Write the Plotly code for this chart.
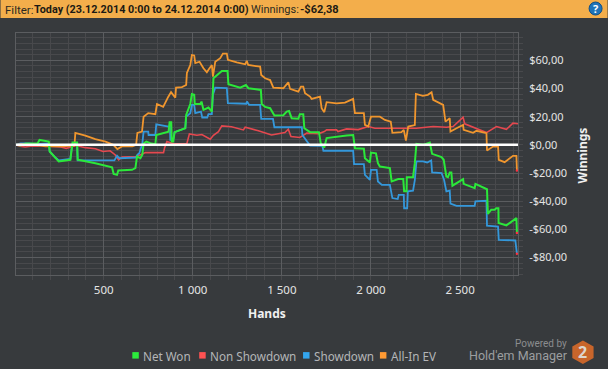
import plotly.graph_objects as go

W, H = 608, 369
FONT = "Noto Sans"
NARROW = "Roboto"
BG = "#373A3D"

hands_net = [8,33,61,89,129,140,192,197,229,248,313,323,325,351,354,453,519,547,556,575,582,659,678,687,706,717,724,739,762,790,795,864,870,879,882,890,898,958,963,986,995,1008,1011,1042,1049,1060,1088,1107,1116,1126,1163,1195,1200,1266,1298,1312,1382,1387,1406,1434,1458,1508,1527,1540,1555,1592,1601,1620,1626,1658,1708,1718,1738,1751,1807,1863,1900,1910,1960,1966,1994,2000,2028,2039,2050,2106,2116,2153,2181,2186,2200,2201,2236,2246,2255,2292,2330,2343,2396,2408,2423,2432,2442,2451,2457,2498,2517,2520,2582,2586,2638,2651,2656,2675,2694,2703,2715,2716,2760,2806,2816,2819]
net_won = [0,-0.5,1,1,1,3.5,2.3,-4.7,-9.5,-11.8,-10.6,0,1.6,1.6,-10.6,-13,-15.4,-16,-20.6,-21.3,-18.2,-17.7,-16.5,-8.3,-9.5,-7,1,2.3,1.2,0.5,7,9.4,16,16,2.3,2.3,9,11.8,21.3,29,36,35.5,29,29,30.7,24.8,26.5,23.6,47.3,48.4,52.5,52.5,43,40.6,42.5,40.2,39,29,26.9,26,20.8,21,23.6,24,18.9,18.5,21.8,21.8,11.8,9,9,1.2,-1.9,4.8,5.9,6.6,7,-2.4,-2.8,-9.5,-12.5,-5.5,-6,-13,-15.4,-16.5,-26,-24.3,-24.3,-33,-33,-23,-23,-13,0.7,0,1.6,-6.4,-8.7,-10.6,-22.5,-23,-19.6,-19.6,-29,-26,-24.3,-27.7,-30.7,-27.7,-30.7,-31.5,-49,-46,-46,-45,-45,-55.5,-57.2,-52.5,-52,-62.6]

hands_non = [8,30,60,90,130,160,200,260,290,320,345,397,453,497,536,564,584,603,659,687,734,790,836,842,855,893,967,981,1023,1051,1098,1116,1144,1163,1217,1284,1294,1368,1442,1517,1536,1551,1601,1640,1708,1738,1751,1807,1815,1863,1928,1985,2022,2050,2106,2255,2349,2423,2461,2517,2526,2592,2648,2704,2760,2797,2825]
non_showdown = [0,-1,-1.5,-1,-1,-0.5,-1,-1.5,-2.5,-1.5,-0.5,-2,-2.8,-4.7,-4.2,-7,-10.6,-8.7,-8.5,-8.3,-5.5,-5.5,-5.5,-2,2.3,0.7,1,7.8,6.8,7.3,4,6.8,9.4,13.5,12.8,10.6,12.5,10,7,8.7,11.1,5.9,5.2,8.3,8,9.4,10.6,10.6,9.4,11.3,10.8,13,11.8,11.8,11.8,11.8,13,12.5,13,19.6,14.9,11.8,8.7,13,11,15.4,15]

hands_show = [8,33,80,120,192,197,229,248,313,323,351,354,560,575,588,680,690,700,717,724,750,752,790,795,864,872,874,890,898,958,963,986,995,1008,1014,1046,1053,1081,1088,1107,1113,1126,1191,1197,1300,1304,1316,1378,1384,1450,1458,1612,1615,1658,1727,1733,1900,1905,1960,1966,1994,2000,2032,2039,2061,2106,2120,2150,2156,2184,2186,2203,2207,2236,2246,2255,2292,2315,2338,2343,2396,2410,2423,2442,2446,2480,2582,2586,2648,2651,2713,2717,2810,2819]
showdown = [0,1,1,0.5,1,-4.7,-9,-11,-10,0,1,-11,-11,-7.8,-9.5,-9,-7,-6,1,9.4,9.4,7,7,14.5,13,13,3.5,3.5,9,11.8,20,22.5,28.4,28.4,22.5,23.6,19.4,19.4,21.8,21.8,35.5,40.6,40.3,29.6,29.2,30.7,28.4,28.4,18.4,18.4,12.5,12.5,7,-0.5,-0.8,-4.2,-4.2,-13.7,-13.7,-21.3,-24.8,-17.7,-17.7,-26,-28.4,-28.4,-37.8,-38.5,-35.5,-35.5,-45,-45,-33,-32.5,-25,-11.8,-11.8,-12.5,-11,-19.6,-20,-24.8,-33,-32.5,-41.8,-43.3,-43.3,-40.2,-39.7,-57.4,-58,-67.4,-67.9,-77.3]

hands_ev = [8,30,89,173,257,336,341,397,453,510,554,577,605,661,682,689,715,722,724,750,790,799,834,862,878,902,906,939,963,967,986,995,1008,1014,1038,1060,1079,1092,1107,1113,1126,1154,1169,1191,1197,1247,1294,1303,1311,1378,1384,1406,1434,1452,1508,1536,1546,1592,1607,1620,1630,1658,1667,1714,1723,1738,1751,1807,1854,1900,1910,1960,1966,1985,2000,2050,2078,2111,2120,2171,2184,2196,2209,2246,2252,2291,2319,2340,2349,2405,2418,2442,2446,2480,2517,2520,2573,2592,2648,2651,2685,2713,2717,2750,2797,2816,2819]
all_in_ev = [0,0.3,0.5,-1,-1,-0.5,8.5,6.6,4,2.3,0,-3,-1,-1,0,8.5,9.4,18,20,22.5,21.8,29,27,34,37.4,33.5,40.6,41,42.5,51,56.7,63.8,63.5,58,59,54.4,51.5,54,56.7,48.4,59,61.5,64.8,64.8,60.3,58.6,57.2,59.6,56.7,55.5,49.6,47.3,46,40.6,40.2,44.4,39.7,37.8,41.3,41.3,36.7,34.3,32.6,34.3,26,23.2,30.3,29.5,30,32.6,22.5,22.5,14.2,13,20,20,17.7,16.5,8.5,9,10.6,3,13,14,36.2,34.8,35.5,37.4,32,28.4,16.5,18.9,9.4,11.8,14.2,10.6,8.5,10,8.3,-4,-1.2,-1.2,-10.6,-12.3,-7.8,-7.8,-18.2]

y_ticks = [60,40,20,0,-20,-40,-60,-80]
y_labels = ["$60,00","$40,00","$20,00","$0,00","-$20,00","-$40,00","-$60,00","-$80,00"]
x_ticks = [500,1000,1500,2000,2500]
x_labels = ["500","1 000","1 500","2 000","2 500"]
series_names = ["Net Won","Non Showdown","Showdown","All-In EV"]
LINE_COL = {"Net Won":"#2BE83A","Non Showdown":"#E5484F","Showdown":"#3498DB","All-In EV":"#F0962E"}
LINE_W = {"Net Won":2,"Non Showdown":1.6,"Showdown":1.8,"All-In EV":1.8}
SW_COL = {"Net Won":"#2CEB3C","Non Showdown":"#FF5252","Showdown":"#33A5EE","All-In EV":"#FF9A33"}

L, R, T, B = 15.5, 518.3, 33.0, 275.3
# paper coordinates are relative to the plot area
px = lambda v: (v - L) / (R - L)
py = lambda v: 1 - (v - T) / (B - T)

fig = go.Figure()
for name, xs, ys in [("Non Showdown", hands_non, non_showdown),
                     ("Showdown", hands_show, showdown),
                     ("All-In EV", hands_ev, all_in_ev),
                     ("Net Won", hands_net, net_won)]:
    fig.add_trace(go.Scatter(x=xs, y=ys, name=name, mode="lines", showlegend=False,
                             line=dict(color=LINE_COL[name], width=LINE_W[name])))
fig.add_trace(go.Scatter(x=[hands_ev[-1], hands_net[-1], hands_show[-1]],
                         y=[all_in_ev[-1], net_won[-1], showdown[-1]], mode="markers", showlegend=False,
                         marker=dict(color="#FF3040", size=2.5, line=dict(width=0))))

GRID, MINOR = "#5B5D60", "#48494C"
fig.update_layout(
    width=W, height=H, autosize=False, paper_bgcolor=BG, plot_bgcolor=BG,
    margin=dict(l=L, r=W-R, t=T, b=H-B, pad=0, autoexpand=False), showlegend=False,
    font=dict(family=FONT, size=12, color="#E4E4E4"),
    xaxis=dict(range=[8,2825], tickmode="array", tickvals=x_ticks, ticktext=x_labels,
               showgrid=True, gridcolor=GRID, gridwidth=1, zeroline=False,
               showline=True, linecolor=GRID, linewidth=1, mirror=True, ticks="", ticklabelstandoff=4,
               tickfont=dict(size=11.5, family=FONT, color="#E4E4E4"),
               minor=dict(tickmode="linear", tick0=0, dtick=100, showgrid=True, gridcolor=MINOR,
                          gridwidth=1, ticks="outside", ticklen=4, tickcolor=MINOR)),
    yaxis=dict(range=[-92.4,79.4], side="right", tickmode="array", tickvals=y_ticks, ticktext=y_labels,
               showgrid=True, gridcolor=GRID, gridwidth=1, zeroline=False,
               showline=True, linecolor=GRID, linewidth=1, mirror=True, ticks="", ticklabelstandoff=8,
               tickfont=dict(size=11, family=FONT, color="#E4E4E4"),
               minor=dict(tickmode="linear", tick0=0, dtick=4, showgrid=True, gridcolor=MINOR,
                          gridwidth=1, ticks="outside", ticklen=4, tickcolor=MINOR)),
)

shapes = [
    dict(type="rect", xref="paper", yref="paper", x0=px(0), x1=px(W), y0=py(0), y1=py(18),
         fillcolor="#F3AE4B", line=dict(width=0), layer="below"),
    dict(type="line", xref="paper", yref="y", x0=0, x1=1, y0=0, y1=0,
         line=dict(color="#FFFFFF", width=2.5), layer="above"),
    dict(type="circle", xref="paper", yref="paper", x0=px(589.5), x1=px(602.5), y0=py(15), y1=py(2),
         fillcolor="#1F74B8", line=dict(color="#0F4E86", width=1)),
]
hex_path = "M {} {} L {} {} L {} {} L {} {} L {} {} L {} {} Z".format(
    px(583.3),py(341), px(594),py(347), px(594),py(358.5), px(583.3),py(364.5), px(572.7),py(358.5), px(572.7),py(347))
shapes.append(dict(type="path", xref="paper", yref="paper", path=hex_path, fillcolor="#C8652B", line=dict(width=0)))

def ann(text, x, y, size=12, color="#E4E4E4", anchor="left", angle=0, family=FONT):
    fig.add_annotation(text=text, x=px(x), y=py(y), xref="paper", yref="paper", showarrow=False,
                       xanchor=anchor, yanchor="middle", textangle=angle,
                       font=dict(family=family, size=size, color=color), borderpad=0, borderwidth=0)

DK = "#1C1A14"
ann("Filter:", 4, 9.5, 11.5, "#2C2A22", family=NARROW)
ann("<b>Today (23.12.2014 0:00 to 24.12.2014 0:00)</b>", 33.5, 9.5, 10.8, DK, family=NARROW)
ann("Winnings:", 251, 9.5, 11, "#2C2A22", family=NARROW)
ann("<b>-$62,38</b>", 300, 9.5, 11, DK, family=NARROW)
ann("<b>?</b>", 596, 8.5, 11, "#FFFFFF", "center")
ann("<b>Hands</b>", 267, 314, 12, "#F0F0F0", "center")
ann("<b>Winnings</b>", 583, 156, 12, "#F0F0F0", "center", -90)

sw_x = [132, 199, 303, 380]
for name, x in zip(series_names, sw_x):
    shapes.append(dict(type="rect", xref="paper", yref="paper", x0=px(x), x1=px(x+6.5), y0=py(359), y1=py(352.5),
                       fillcolor=SW_COL[name], line=dict(width=0)))
    ann(name, x+11, 356, 11.7, "#B4B6B8")
ann("Powered by", 567, 344, 10, "#8B8D8F", "right", family=NARROW)
ann("Hold'em Manager", 568, 356, 12.5, "#9C9EA0", "right", family=NARROW)
ann("<b>2</b>", 583.3, 352.5, 16, "#DDD6CF", "center")

fig.update_layout(shapes=shapes)
fig.write_html("out.html", config={"displayModeBar": False},
               post_script="document.body.style.margin='0';document.documentElement.style.overflow='hidden';document.body.style.background='#373A3D';")
